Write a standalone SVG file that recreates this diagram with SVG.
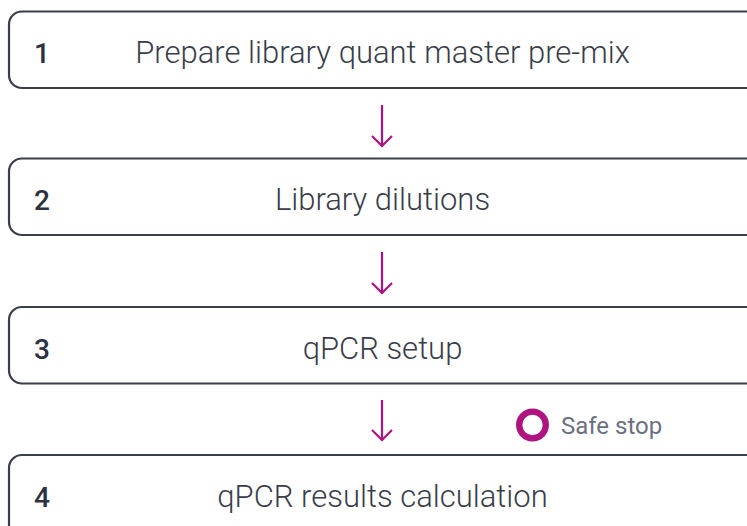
<svg xmlns="http://www.w3.org/2000/svg" width="747" height="526" viewBox="0 0 747 526">
<defs>
<style>
.box{fill:#fff;stroke:#3a3d4a;stroke-width:2.2}
.num{font-family:Roboto,"Liberation Sans",sans-serif;font-weight:500;font-size:28px;fill:#2e3140}
.lbl{font-family:Roboto,"Liberation Sans",sans-serif;font-weight:300;font-size:31px;fill:#3a3d4a;text-anchor:middle}
.arr{fill:none;stroke:#b0127f;stroke-width:2.2}
</style>
</defs>
<rect width="747" height="526" fill="#fff"/>
<g id="node1"><rect class="box" x="9" y="11.5" width="760" height="76.5" rx="13"/><text class="num" x="34" y="63">1</text><text class="lbl" x="382.5" y="63">Prepare library quant master pre-mix</text></g>
<g id="node2"><rect class="box" x="9" y="158.5" width="760" height="76.5" rx="13"/><text class="num" x="34" y="210">2</text><text class="lbl" x="382.5" y="210">Library dilutions</text></g>
<g id="node3"><rect class="box" x="9" y="307" width="760" height="76.5" rx="13"/><text class="num" x="34" y="359">3</text><text class="lbl" x="382.5" y="359">qPCR setup</text></g>
<g id="node4"><rect class="box" x="9" y="455" width="760" height="100" rx="13"/><text class="num" x="34" y="507">4</text><text class="lbl" x="382.5" y="507">qPCR results calculation</text></g>
<g id="connectors">
<path class="arr" d="M382 105V147M372 136L382 146L392 136"/>
<path class="arr" d="M382 252V294M372 283L382 293L392 283"/>
<path class="arr" d="M382 400V441M372 430L382 440L392 430"/>
</g>
<g id="safestop"><circle cx="532.5" cy="425" r="13.3" fill="none" stroke="#b0127f" stroke-width="6.3"/><text x="561" y="434" font-family="Roboto,'Liberation Sans',sans-serif" font-size="24" fill="#6b7080">Safe stop</text></g>
</svg>
